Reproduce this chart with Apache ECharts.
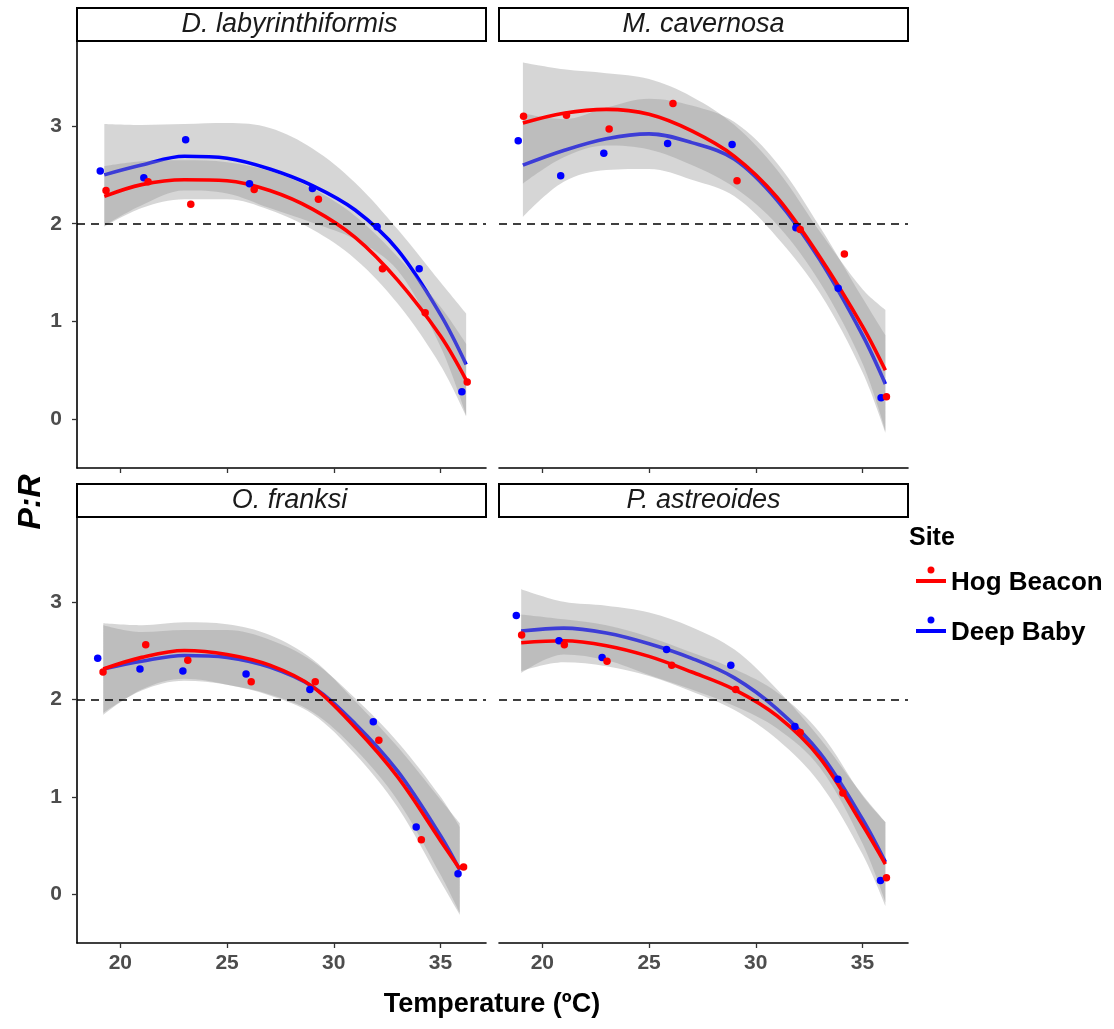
<!DOCTYPE html>
<html>
<head>
<meta charset="utf-8">
<script src="https://cdn.jsdelivr.net/npm/echarts@6/dist/echarts.min.js"></script>
<style>
  html, body { margin: 0; padding: 0; background: #ffffff; }
  #chart { width: 1114px; height: 1029px; }
</style>
</head>
<body>
<div id="chart"></div>
<script>
// ---- Facets, sites and axis ticks ----
const SPECIES = ['D. labyrinthiformis', 'M. cavernosa', 'O. franksi', 'P. astreoides'];
const SITES = ['Hog Beacon', 'Deep Baby'];
const TEMP_TICKS = [20, 25, 30, 35];
const PR_TICKS = [0, 1, 2, 3];
const PR_THRESHOLD = 2;

// ---- Measured P:R by temperature (°C) ----
const DLAB_HOG_POINTS  = [[19.33, 2.34], [21.30, 2.43], [23.30, 2.20], [26.27, 2.35], [29.28, 2.25], [32.28, 1.54], [34.28, 1.09], [36.25, 0.38]];
const DLAB_DEEP_POINTS = [[19.06, 2.54], [21.10, 2.47], [23.06, 2.86], [26.05, 2.41], [29.00, 2.36], [32.03, 1.97], [34.00, 1.54], [36.00, 0.28]];
const MCAV_HOG_POINTS  = [[19.12, 3.10], [21.13, 3.11], [23.13, 2.97], [26.12, 3.23], [29.12, 2.44], [32.08, 1.94], [34.15, 1.69], [36.12, 0.23]];
const MCAV_DEEP_POINTS = [[18.87, 2.85], [20.86, 2.49], [22.88, 2.72], [25.87, 2.82], [28.89, 2.81], [31.88, 1.96], [33.86, 1.34], [35.87, 0.22]];
const OFRA_HOG_POINTS  = [[19.19, 2.28], [21.19, 2.56], [23.16, 2.40], [26.13, 2.18], [29.13, 2.18], [32.11, 1.58], [34.10, 0.56], [36.08, 0.28]];
const OFRA_DEEP_POINTS = [[18.94, 2.42], [20.92, 2.31], [22.93, 2.29], [25.89, 2.26], [28.88, 2.10], [31.85, 1.77], [33.86, 0.69], [35.82, 0.21]];
const PAST_HOG_POINTS  = [[19.03, 2.66], [21.03, 2.56], [23.03, 2.39], [26.06, 2.35], [29.06, 2.10], [32.08, 1.66], [34.08, 1.04], [36.12, 0.17]];
const PAST_DEEP_POINTS = [[18.78, 2.86], [20.78, 2.60], [22.80, 2.43], [25.82, 2.51], [28.83, 2.35], [31.83, 1.72], [33.85, 1.18], [35.84, 0.14]];

// ---- Smoothed fits with confidence bands ----
const DLAB_FIT_TEMP = [19.25, 21, 23, 25, 27, 29, 31, 33, 35, 36.2];
const DLAB_HOG_FIT  = [2.28, 2.40, 2.45, 2.44, 2.34, 2.15, 1.86, 1.42, 0.85, 0.40];
const DLAB_HOG_LO   = [1.97, 2.16, 2.25, 2.25, 2.14, 1.94, 1.64, 1.18, 0.55, 0.03];
const DLAB_HOG_HI   = [2.59, 2.64, 2.65, 2.63, 2.54, 2.36, 2.08, 1.66, 1.15, 0.77];
const DLAB_DEEP_FIT = [2.50, 2.60, 2.69, 2.67, 2.56, 2.39, 2.14, 1.73, 1.07, 0.56];
const DLAB_DEEP_LO  = [1.98, 2.19, 2.34, 2.31, 2.16, 2.01, 1.84, 1.52, 0.74, 0.04];
const DLAB_DEEP_HI  = [3.02, 3.01, 3.02, 3.03, 2.98, 2.77, 2.42, 1.94, 1.40, 1.08];

const MCAV_FIT_TEMP = [19.09, 21, 23, 25, 27, 29, 31, 33, 35, 36.07];
const MCAV_HOG_FIT  = [3.03, 3.13, 3.17, 3.12, 2.95, 2.69, 2.27, 1.66, 0.95, 0.50];
const MCAV_HOG_LO   = [2.41, 2.68, 2.80, 2.76, 2.60, 2.37, 1.99, 1.40, 0.57, -0.12];
const MCAV_HOG_HI   = [3.65, 3.58, 3.54, 3.48, 3.30, 3.01, 2.55, 1.92, 1.33, 1.12];
const MCAV_DEEP_FIT = [2.60, 2.75, 2.87, 2.92, 2.83, 2.66, 2.24, 1.63, 0.86, 0.36];
const MCAV_DEEP_LO  = [2.07, 2.43, 2.55, 2.56, 2.45, 2.28, 1.86, 1.29, 0.48, -0.14];
const MCAV_DEEP_HI  = [3.13, 3.07, 3.19, 3.28, 3.21, 3.04, 2.62, 1.97, 1.24, 0.86];

const OFRA_FIT_TEMP = [19.2, 21, 23, 25, 27, 29, 31, 33, 35, 35.9];
const OFRA_HOG_FIT  = [2.31, 2.43, 2.50, 2.46, 2.35, 2.13, 1.71, 1.20, 0.55, 0.26];
const OFRA_HOG_LO   = [1.84, 2.10, 2.21, 2.15, 2.04, 1.85, 1.44, 0.89, 0.13, -0.21];
const OFRA_HOG_HI   = [2.78, 2.76, 2.79, 2.77, 2.66, 2.41, 1.98, 1.51, 0.97, 0.73];
const OFRA_DEEP_FIT = [2.31, 2.39, 2.45, 2.43, 2.33, 2.13, 1.75, 1.26, 0.60, 0.25];
const OFRA_DEEP_LO  = [1.86, 2.09, 2.19, 2.15, 2.05, 1.87, 1.49, 0.96, 0.20, -0.19];
const OFRA_DEEP_HI  = [2.76, 2.69, 2.71, 2.71, 2.61, 2.39, 2.01, 1.56, 1.00, 0.69];

const PAST_FIT_TEMP = [19.01, 21, 23, 25, 27, 29, 31, 33, 35, 36.07];
const PAST_HOG_FIT  = [2.58, 2.60, 2.55, 2.44, 2.28, 2.10, 1.83, 1.40, 0.71, 0.31];
const PAST_HOG_LO   = [2.29, 2.38, 2.34, 2.24, 2.08, 1.89, 1.59, 1.14, 0.41, -0.12];
const PAST_HOG_HI   = [2.87, 2.82, 2.76, 2.64, 2.48, 2.31, 2.07, 1.66, 1.01, 0.74];
const PAST_DEEP_FIT = [2.70, 2.73, 2.68, 2.57, 2.42, 2.22, 1.90, 1.45, 0.77, 0.33];
const PAST_DEEP_LO  = [2.27, 2.46, 2.40, 2.25, 2.10, 1.93, 1.70, 1.30, 0.52, -0.08];
const PAST_DEEP_HI  = [3.13, 3.00, 2.96, 2.89, 2.74, 2.51, 2.10, 1.60, 1.02, 0.74];

// ---- Panel assembly ----
const PANELS = [
  { title: SPECIES[0], temp: DLAB_FIT_TEMP,
    hog:  { points: DLAB_HOG_POINTS,  fit: DLAB_HOG_FIT,  lo: DLAB_HOG_LO,  hi: DLAB_HOG_HI },
    deep: { points: DLAB_DEEP_POINTS, fit: DLAB_DEEP_FIT, lo: DLAB_DEEP_LO, hi: DLAB_DEEP_HI } },
  { title: SPECIES[1], temp: MCAV_FIT_TEMP,
    hog:  { points: MCAV_HOG_POINTS,  fit: MCAV_HOG_FIT,  lo: MCAV_HOG_LO,  hi: MCAV_HOG_HI },
    deep: { points: MCAV_DEEP_POINTS, fit: MCAV_DEEP_FIT, lo: MCAV_DEEP_LO, hi: MCAV_DEEP_HI } },
  { title: SPECIES[2], temp: OFRA_FIT_TEMP,
    hog:  { points: OFRA_HOG_POINTS,  fit: OFRA_HOG_FIT,  lo: OFRA_HOG_LO,  hi: OFRA_HOG_HI },
    deep: { points: OFRA_DEEP_POINTS, fit: OFRA_DEEP_FIT, lo: OFRA_DEEP_LO, hi: OFRA_DEEP_HI } },
  { title: SPECIES[3], temp: PAST_FIT_TEMP,
    hog:  { points: PAST_HOG_POINTS,  fit: PAST_HOG_FIT,  lo: PAST_HOG_LO,  hi: PAST_HOG_HI },
    deep: { points: PAST_DEEP_POINTS, fit: PAST_DEEP_FIT, lo: PAST_DEEP_LO, hi: PAST_DEEP_HI } }
];

// ---- Layout & style ----
const GRID_BOXES = [
  { left: 77,  top: 41,  width: 409, height: 427 },
  { left: 499, top: 41,  width: 409, height: 427 },
  { left: 77,  top: 517, width: 409, height: 426 },
  { left: 499, top: 517, width: 409, height: 426 }
];
const STRIP_H = 33;
const TEMP_RANGE = [17.97, 37.13];
const PR_RANGE = [-0.5, 3.87];
const COLORS = { hog: '#ff0000', deep: '#0000ff' };
const BAND_FILL = 'rgb(153,153,153)';
const SANS = '"Liberation Sans", Arial, Helvetica, sans-serif';
const SMOOTH = 0.35;

// P:R is put in the first column so the stack sums along the P:R axis
const bandRows = (temps, vals) => temps.map((t, i) => [vals[i], t]);
const spans = (lo, hi) => hi.map((h, i) => +(h - lo[i]).toFixed(4));
const zip = (xs, ys) => xs.map((x, i) => [x, ys[i]]);

const grids = [], xAxes = [], yAxes = [], series = [], graphics = [];

PANELS.forEach((p, i) => {
  const box = GRID_BOXES[i];
  const bottomRow = i >= 2;
  const leftCol = i % 2 === 0;
  grids.push(Object.assign({ containLabel: false }, box));

  xAxes.push({
    gridIndex: i, type: 'value', min: TEMP_RANGE[0], max: TEMP_RANGE[1],
    splitLine: { show: false },
    axisLine: { show: true, onZero: false, lineStyle: { color: '#000', width: 1.6 } },
    axisTick: { show: true, length: 5, customValues: TEMP_TICKS, lineStyle: { color: '#333', width: 1.3 } },
    axisLabel: { show: bottomRow, customValues: TEMP_TICKS, margin: 10,
      fontFamily: SANS, fontWeight: 'bold', fontSize: 21, color: '#4d4d4d' }
  });
  yAxes.push({
    gridIndex: i, type: 'value', min: PR_RANGE[0], max: PR_RANGE[1],
    show: leftCol,
    splitLine: { show: false },
    axisLine: { show: leftCol, onZero: false, lineStyle: { color: '#000', width: 1.6 } },
    axisTick: { show: leftCol, length: 5, customValues: PR_TICKS, lineStyle: { color: '#333', width: 1.3 } },
    axisLabel: { show: leftCol, customValues: PR_TICKS, margin: 15,
      fontFamily: SANS, fontWeight: 'bold', fontSize: 21, color: '#4d4d4d' }
  });

  // confidence band = invisible lower edge + stacked span up to the upper edge
  const band = (site, z) => {
    const s = p[site];
    const key = 'band-' + site + '-' + i;
    const common = {
      type: 'line', xAxisIndex: i, yAxisIndex: i, stack: key, stackStrategy: 'all',
      encode: { x: 1, y: 0 }, smooth: SMOOTH,
      showSymbol: false, symbol: 'none', silent: true, z: z,
      lineStyle: { width: 0, opacity: 0 }
    };
    series.push(Object.assign({}, common, {
      name: key + '-lo', data: bandRows(p.temp, s.lo)
    }));
    series.push(Object.assign({}, common, {
      name: key + '-span', data: bandRows(p.temp, spans(s.lo, s.hi)),
      areaStyle: { color: BAND_FILL, opacity: 0.4 }
    }));
  };
  const fit = (site, z) => {
    series.push({
      type: 'line', name: 'fit-' + site + '-' + i, xAxisIndex: i, yAxisIndex: i,
      data: zip(p.temp, p[site].fit), smooth: SMOOTH,
      showSymbol: false, symbol: 'none',
      lineStyle: { color: COLORS[site], width: 3.6 }, silent: true, z: z
    });
  };

  band('deep', 1);
  fit('deep', 2);
  band('hog', 3);
  fit('hog', 4);

  series.push({
    type: 'scatter', name: SITES[1], xAxisIndex: i, yAxisIndex: i,
    data: p.deep.points, symbol: 'circle', symbolSize: 7.5,
    itemStyle: { color: COLORS.deep, opacity: 1 }, z: 5,
    markLine: {
      silent: true, symbol: ['none', 'none'], label: { show: false },
      lineStyle: { color: '#000', type: [8, 6], width: 1.6, opacity: 1 },
      data: [{ yAxis: PR_THRESHOLD }]
    }
  });
  series.push({
    type: 'scatter', name: SITES[0], xAxisIndex: i, yAxisIndex: i,
    data: p.hog.points, symbol: 'circle', symbolSize: 7.5,
    itemStyle: { color: COLORS.hog, opacity: 1 }, z: 6
  });

  // facet strip
  graphics.push({
    type: 'rect', shape: { x: box.left, y: box.top - STRIP_H, width: box.width, height: STRIP_H },
    style: { fill: '#ffffff', stroke: '#000000', lineWidth: 2 }, z: 10
  });
  graphics.push({
    type: 'text', x: box.left + box.width / 2 + (leftCol ? 8 : 0), y: box.top - STRIP_H / 2,
    style: { text: p.title, align: 'center', verticalAlign: 'middle',
      fontFamily: SANS, fontStyle: 'italic', fontSize: 27, fill: '#1a1a1a' }, z: 11
  });
});

// axis titles and legend heading
graphics.push({
  type: 'text', x: 31, y: 502, rotation: Math.PI / 2,
  style: { text: 'P:R', align: 'center', verticalAlign: 'middle',
    fontFamily: SANS, fontStyle: 'italic', fontWeight: 'bold', fontSize: 32, fill: '#000' }
});
graphics.push({
  type: 'text', x: 492, y: 1005,
  style: { text: 'Temperature (ºC)', align: 'center', verticalAlign: 'middle',
    fontFamily: SANS, fontWeight: 'bold', fontSize: 27, fill: '#000' }
});
graphics.push({
  type: 'text', x: 909, y: 538,
  style: { text: 'Site', align: 'left', verticalAlign: 'middle',
    fontFamily: SANS, fontWeight: 'bold', fontSize: 25, fill: '#000' }
});

// legend key: point above a fit line segment
const KEY_ICON = 'path://M15,0 A3.5,3.5 0 1 1 14.99,0 Z M0,12.5 L30,12.5 L30,16.5 L0,16.5 Z M0,33 L0.01,33 L0,33.01 Z';

const chart = echarts.init(document.getElementById('chart'), null, { renderer: 'canvas' });
chart.setOption({
  animation: false,
  backgroundColor: '#ffffff',
  grid: grids,
  xAxis: xAxes,
  yAxis: yAxes,
  legend: {
    data: SITES, orient: 'vertical', left: 911, top: 561.5, padding: 5,
    icon: KEY_ICON, itemWidth: 30, itemHeight: 33, itemGap: 17, itemTextGap: 4,
    selectedMode: false,
    itemStyle: { opacity: 1 },
    textStyle: { fontFamily: SANS, fontWeight: 'bold', fontSize: 26, color: '#000' }
  },
  graphic: graphics,
  series: series
});
</script>
</body>
</html>
